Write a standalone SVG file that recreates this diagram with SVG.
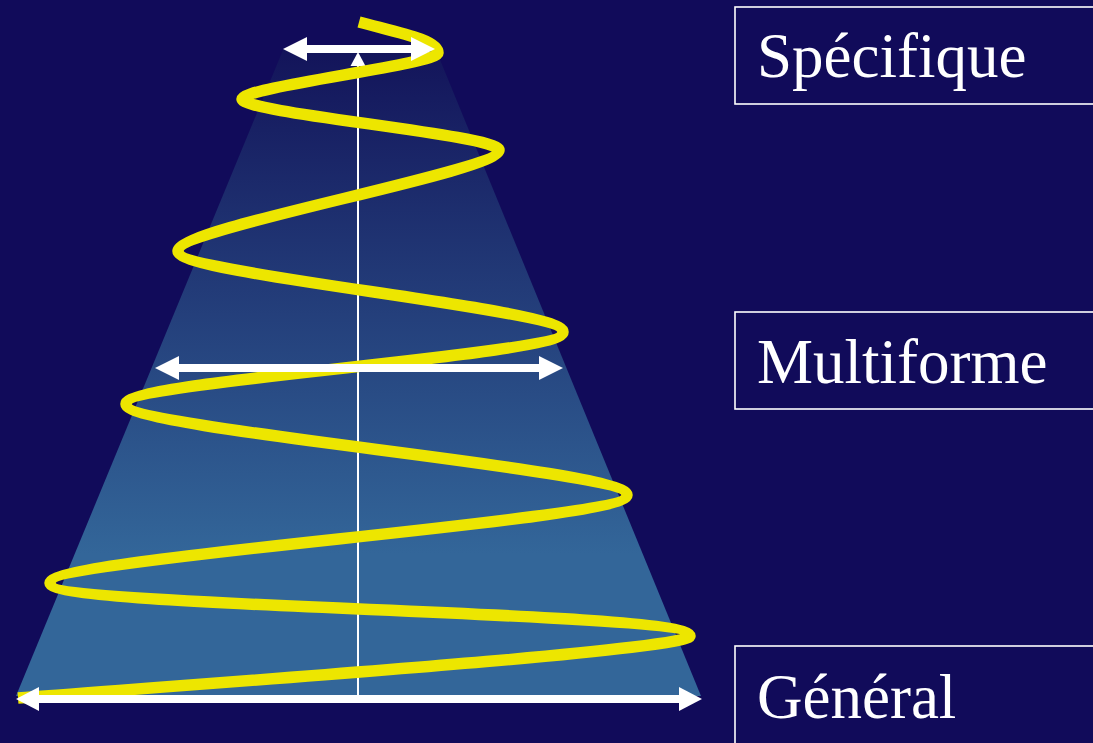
<svg xmlns="http://www.w3.org/2000/svg" width="1093" height="743" viewBox="0 0 1093 743">
  <defs>
    <linearGradient id="cone" x1="0" y1="50" x2="0" y2="696" gradientUnits="userSpaceOnUse">
      <stop offset="0" stop-color="#13145a"/>
      <stop offset="0.78" stop-color="#336699"/>
      <stop offset="1" stop-color="#336699"/>
    </linearGradient>
    <style>
      .label { font-family: "Liberation Serif", "Times New Roman", serif; font-size: 63px; fill: #ffffff; }
      .box { fill: none; stroke: #ffffff; stroke-width: 1.6; }
      .shaft { stroke: #ffffff; stroke-width: 8; fill: none; }
      .head { fill: #ffffff; }
      .spiral { fill: none; stroke: #ede600; stroke-width: 11.5; stroke-linejoin: round; }
    </style>
  </defs>
  <rect x="0" y="0" width="1093" height="743" fill="#110b5a"/>

  <g id="cone-shape">
    <polygon points="283,50 436,50 701,696 16,696" fill="url(#cone)"/>
  </g>

  <g id="axis">
    <line x1="358" y1="696" x2="358" y2="62" stroke="#ffffff" stroke-width="2"/>
    <polygon class="head" points="358,52 365.5,66 350.5,66"/>
  </g>

  <g id="spiral">
    <path class="spiral" d="M359,22 C400,33 438,40 438,53 C438,64 242,87 242,99 C242,113 499,135 499,150 C499,172 178,227 178,251 C178,275 563,308 563,332 C563,356 126,380 126,404 C126,430 627,469 627,495 C627,521 50,557 50,583 C50,609 690,610 690,636 C690,650 200,684 18,698"/>
  </g>

  <g id="connectors">
    <g id="arrow-top">
      <line class="shaft" x1="300" y1="49" x2="418" y2="49"/>
      <polygon class="head" points="283,49 307,37 307,61"/>
      <polygon class="head" points="435,49 411,37 411,61"/>
    </g>
    <g id="arrow-middle">
      <line class="shaft" x1="172" y1="368" x2="546" y2="368"/>
      <polygon class="head" points="155,368 179,356 179,380"/>
      <polygon class="head" points="563,368 539,356 539,380"/>
    </g>
    <g id="arrow-bottom">
      <line class="shaft" x1="33" y1="699" x2="685" y2="699"/>
      <polygon class="head" points="16,699 39,687 39,711"/>
      <polygon class="head" points="702,699 679,687 679,711"/>
    </g>
  </g>

  <g id="node-specifique">
    <rect class="box" x="735" y="7" width="370" height="97"/>
    <text class="label" x="757" y="77">Spécifique</text>
  </g>
  <g id="node-multiforme">
    <rect class="box" x="735" y="312" width="370" height="97"/>
    <text class="label" x="757" y="383">Multiforme</text>
  </g>
  <g id="node-general">
    <rect class="box" x="735" y="646" width="370" height="110"/>
    <text class="label" x="757" y="718">Général</text>
  </g>
</svg>
